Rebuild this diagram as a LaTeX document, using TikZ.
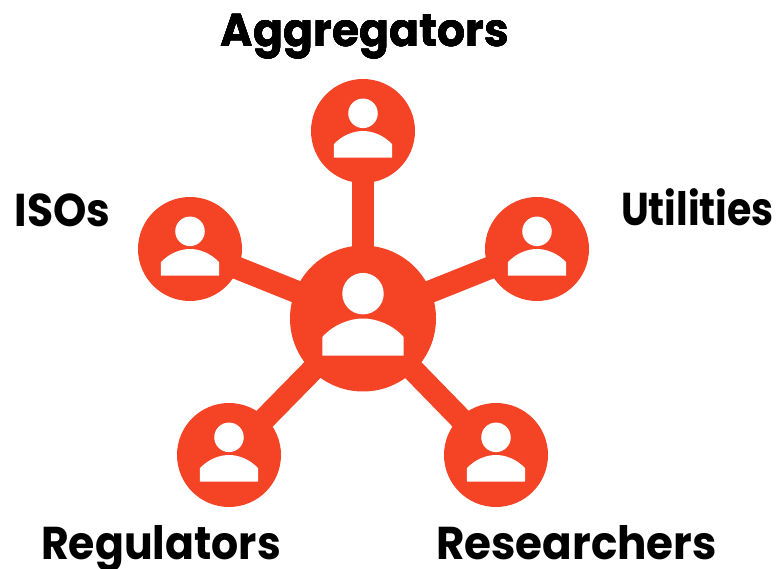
\documentclass[tikz,border=0pt]{standalone}
\usepackage{fontspec}
\setmainfont{Poppins}
\usetikzlibrary{positioning}
\definecolor{hubred}{HTML}{F44325}
\tikzset{
	hub/.style={circle,fill=hubred,minimum size=#1,inner sep=0pt},
	spoke/.style={draw=hubred,line width=22.6pt},
	tag/.style={anchor=base,font=\fontsize{46}{46}\selectfont\bfseries,text=black,inner sep=0pt}
}
% head and shoulders, scaled with the circle
\newcommand{\person}[2]{
	\begin{scope}[shift={(#1)},x=#2pt,y=-#2pt]
		\fill[white] (0,-0.17) circle (0.142);
		\fill[white] (-0.279,0.255)--(-0.279,0.127) .. controls (-0.2,0.04) and (-0.09,0) .. (0,0) .. controls (0.09,0) and (0.2,0.04) .. (0.279,0.127)--(0.279,0.255)--cycle;
	\end{scope}
}
\begin{document}
\begin{tikzpicture}[x=1pt,y=-1pt]
	\useasboundingbox (0,0) rectangle (780,569);
	\node[hub=146pt] (hubc) at (363,318.5) {};
	\node[hub=104pt] (agg) at (363,131) {};
	\node[hub=104pt] (iso) at (190,249) {};
	\node[hub=104pt] (uti) at (537,249) {};
	\node[hub=104pt] (reg) at (229,455) {};
	\node[hub=104pt] (res) at (496,455) {};
	\foreach \n in {agg,iso,uti,reg,res}
		\draw[spoke] (hubc.center)--(\n.center);
	\person{hubc}{146}
	\foreach \n in {agg,iso,uti,reg,res}
		\person{\n}{104}
	\node[tag] (aggtag) at (365,46.7) {\scalebox{.96}[1]{Aggregators}};
	\node[tag] (isotag) at (62.5,227) {\scalebox{.922}[1]{ISOs}};
	\node[tag] (utitag) at (697.5,226) {\scalebox{.858}[1]{Utilities}};
	\node[tag] (regtag) at (161,559) {\scalebox{.926}[1]{Regulators}};
	\node[tag] (restag) at (576.5,559) {\scalebox{.949}[1]{Researchers}};
\end{tikzpicture}
\end{document}
